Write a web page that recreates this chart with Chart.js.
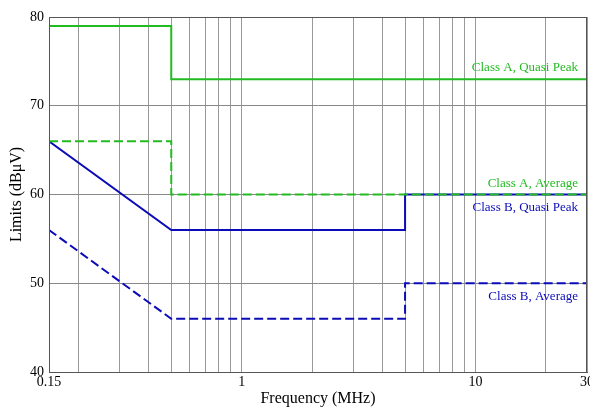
<!DOCTYPE html>
<html>
<head>
<meta charset="utf-8">
<script src="https://cdn.jsdelivr.net/npm/chart.js@4/dist/chart.umd.min.js"></script>
<style>
  html, body { margin: 0; padding: 0; background: #fff; }
  #wrap { width: 590px; height: 408px; }
</style>
</head>
<body>
<div id="wrap"><canvas id="limits"></canvas></div>
<script>
// frequency grid (MHz) and which ones get a label
const freqTicks = [0.15, 0.2, 0.3, 0.4, 0.5, 0.6, 0.7, 0.8, 0.9, 1, 2, 3, 4, 5, 6, 7, 8, 9, 10, 20, 30];
const freqLabels = [0.15, 1, 10, 30];

// limit lines, frequency breakpoints and levels (dBµV)
const classAQpFreq = [0.15, 0.5, 0.5, 30];
const classAQp = [79, 79, 73, 73];
const classAAvgFreq = [0.15, 0.5, 0.5, 30];
const classAAvg = [66, 66, 60, 60];
const classBQpFreq = [0.15, 0.5, 5, 5, 30];
const classBQp = [66, 56, 56, 60, 60];
const classBAvgFreq = [0.15, 0.5, 5, 5, 30];
const classBAvg = [56, 46, 46, 50, 50];

// line captions and the level they sit at
const captions = ["Class A, Quasi Peak", "Class A, Average", "Class B, Quasi Peak", "Class B, Average"];
const captionLevels = [74.25, 61.2, 58.5, 48.45];

const green = "#22bb22";
const blue = "#0b0bb8";
const captionColors = [green, green, blue, blue];
const serif = "'Liberation Serif', 'DejaVu Serif', serif";

function toPoints(xs, ys) {
  return xs.map((x, i) => ({ x, y: ys[i] }));
}

const captionPlugin = {
  id: "captions",
  afterDatasetsDraw(chart) {
    const { ctx, chartArea, scales } = chart;
    ctx.save();
    ctx.font = "13px " + serif;
    ctx.textAlign = "right";
    ctx.textBaseline = "middle";
    captions.forEach((txt, i) => {
      ctx.fillStyle = captionColors[i];
      ctx.fillText(txt, chartArea.right - 9, scales.y.getPixelForValue(captionLevels[i]));
    });
    ctx.restore();
  }
};

function line(label, xs, ys, color, dashed) {
  return {
    label,
    data: toPoints(xs, ys),
    borderColor: color,
    backgroundColor: color,
    borderWidth: 2,
    borderDash: dashed ? [9, 4] : [],
    pointRadius: 0,
    tension: 0,
    fill: false
  };
}

new Chart(document.getElementById("limits"), {
  type: "line",
  data: {
    datasets: [
      line(captions[0], classAQpFreq, classAQp, green, false),
      line(captions[1], classAAvgFreq, classAAvg, green, true),
      line(captions[2], classBQpFreq, classBQp, blue, false),
      line(captions[3], classBAvgFreq, classBAvg, blue, true)
    ]
  },
  options: {
    responsive: true,
    maintainAspectRatio: false,
    animation: false,
    layout: { padding: { top: 17, right: 3, left: 0, bottom: 0 } },
    plugins: {
      legend: { display: false },
      tooltip: { enabled: false }
    },
    scales: {
      x: {
        type: "logarithmic",
        min: 0.15,
        max: 30,
        afterBuildTicks: s => { s.ticks = freqTicks.map(v => ({ value: v })); },
        afterFit: s => { s.height = 36; s.paddingLeft = 0; s.paddingRight = 0; },
        ticks: {
          autoSkip: false,
          maxRotation: 0,
          padding: 2,
          color: "#000",
          font: { family: serif, size: 14 },
          callback: v => (freqLabels.includes(v) ? String(v) : "")
        },
        grid: { color: "#999", lineWidth: 1, drawTicks: false },
        border: { color: "#555" },
        title: {
          display: true,
          text: "Frequency (MHz)",
          color: "#000",
          font: { family: serif, size: 16 },
          padding: { top: 4, bottom: 0 }
        }
      },
      y: {
        type: "linear",
        min: 40,
        max: 80,
        afterFit: s => { s.width = 49; },
        ticks: {
          stepSize: 10,
          padding: 5,
          color: "#000",
          font: { family: serif, size: 14 }
        },
        grid: { color: "#888", lineWidth: 1, drawTicks: false },
        border: { color: "#555" },
        title: {
          display: true,
          text: "Limits (dBμV)",
          color: "#000",
          font: { family: serif, size: 16 },
          padding: { top: 7, bottom: 0 }
        }
      }
    }
  },
  plugins: [
    captionPlugin,
    {
      id: "frame",
      afterDraw(chart) {
        const { ctx, chartArea: a } = chart;
        ctx.save();
        ctx.strokeStyle = "#555";
        ctx.lineWidth = 1;
        ctx.strokeRect(a.left + 0.5, a.top + 0.5, a.right - a.left - 1, a.bottom - a.top);
        ctx.restore();
      }
    }
  ]
});
</script>
</body>
</html>
